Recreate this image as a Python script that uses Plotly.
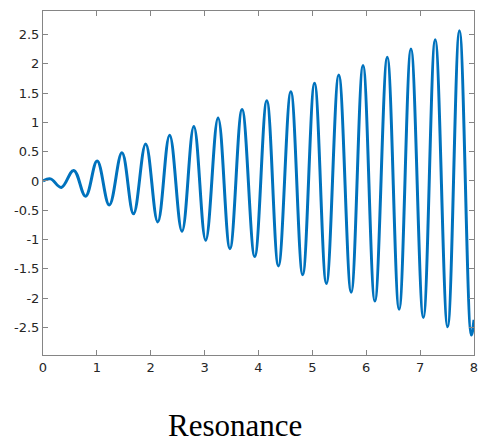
import plotly.graph_objects as go

# Values (turning points of the curve)
start_t = [0.0, 0.14]
start_y = [0.0, 0.035]
peak_t = [0.57, 1.005, 1.465, 1.906, 2.35, 2.80, 3.25, 3.695, 4.154, 4.60, 5.04, 5.49, 5.94, 6.39, 6.83, 7.28, 7.73]
peak_y = [0.18, 0.34, 0.48, 0.63, 0.78, 0.93, 1.075, 1.22, 1.37, 1.52, 1.667, 1.81, 1.97, 2.11, 2.25, 2.41, 2.565]
trough_t = [0.34, 0.79, 1.23, 1.68, 2.13, 2.58, 3.02, 3.47, 3.93, 4.37, 4.82, 5.26, 5.72, 6.16, 6.61, 7.06, 7.51, 7.95]
trough_y = [-0.11, -0.26, -0.41, -0.56, -0.70, -0.86, -1.01, -1.155, -1.29, -1.45, -1.60, -1.75, -1.90, -2.05, -2.19, -2.33, -2.49, -2.63]
end_t = [8.0]
end_y = [-2.37]

x_ticks = [0, 1, 2, 3, 4, 5, 6, 7, 8]
x_labels = ["0", "1", "2", "3", "4", "5", "6", "7", "8"]
y_ticks = [-2.5, -2, -1.5, -1, -0.5, 0, 0.5, 1, 1.5, 2, 2.5]
y_labels = ["-2.5", "-2", "-1.5", "-1", "-0.5", "0", "0.5", "1", "1.5", "2", "2.5"]

pts = list(zip(start_t, start_y)) + list(zip(peak_t, peak_y)) + list(zip(trough_t, trough_y)) \
    + list(zip(end_t, end_y))
pts.sort()
t_all = [p[0] for p in pts]
y_all = [p[1] for p in pts]

fig = go.Figure()
fig.add_trace(go.Scatter(x=t_all, y=y_all, mode="lines",
                         line=dict(color="#0072BD", width=3, shape="spline", smoothing=1.1),
                         hoverinfo="skip"))

axis_common = dict(showline=True, linecolor="#858585", linewidth=1, mirror="ticks",
                   ticks="inside", ticklen=5, tickcolor="#858585", tickwidth=1,
                   showgrid=False, zeroline=False,
                   tickfont=dict(family="DejaVu Sans", size=13, color="#262626"))

fig.update_layout(
    width=488, height=442,
    margin=dict(l=43, r=10, t=11, b=87),
    paper_bgcolor="white", plot_bgcolor="white",
    showlegend=False,
    xaxis=dict(range=[0, 8], tickvals=x_ticks, ticktext=x_labels, **axis_common),
    yaxis=dict(range=[-2.97, 2.90], tickvals=y_ticks, ticktext=y_labels, **axis_common),
    annotations=[dict(text="Resonance", xref="paper", yref="paper", x=0.446, y=-0.204,
                      xanchor="center", yanchor="middle", showarrow=False,
                      font=dict(family="Liberation Serif", size=31, color="black"))],
)

fig.write_html("out.html")
